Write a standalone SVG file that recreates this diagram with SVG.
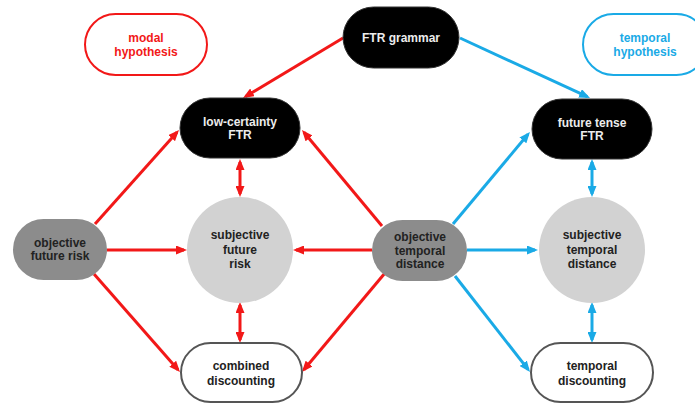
<svg xmlns="http://www.w3.org/2000/svg" width="695" height="405" viewBox="0 0 695 405">
<defs>
<style>
text{font-family:"Liberation Sans",Arial,sans-serif;font-weight:bold;font-size:12px;text-anchor:middle}
.blk rect{fill:#000;stroke:#333;stroke-width:1}
.blk text{fill:#ececec}
.obj rect{fill:#8c8c8c}
.sub circle{fill:#d2d2d2}
.dark text{fill:#222}
.out rect{fill:#fff;stroke:#555;stroke-width:2}
.hyp rect{fill:#fff;stroke-width:2}
.red{stroke:#f21818;stroke-width:3;fill:none}
.blue{stroke:#1aaae6;stroke-width:3;fill:none}
.red.e{marker-end:url(#ar)}
.red.b{marker-start:url(#ar);marker-end:url(#ar)}
.blue.e{marker-end:url(#ab)}
.blue.b{marker-start:url(#ab);marker-end:url(#ab)}
</style>
<marker id="ar" markerUnits="userSpaceOnUse" markerWidth="11" markerHeight="9" refX="8" refY="4.5" orient="auto-start-reverse"><path d="M0,0 L11,4.5 L0,9 z" fill="#f21818"/></marker>
<marker id="ab" markerUnits="userSpaceOnUse" markerWidth="11" markerHeight="9" refX="8" refY="4.5" orient="auto-start-reverse"><path d="M0,0 L11,4.5 L0,9 z" fill="#1aaae6"/></marker>
</defs>
<rect width="695" height="405" fill="#fff"/>
<g id="connectors">
<line class="red e" x1="343" y1="38" x2="245.6" y2="96.5"/>
<line class="red e" x1="95" y1="224" x2="177" y2="132.2"/>
<line class="red e" x1="382" y1="226" x2="303.9" y2="132.3"/>
<line class="red e" x1="107" y1="250" x2="184" y2="250"/>
<line class="red e" x1="372" y1="250" x2="296" y2="250"/>
<line class="red e" x1="94" y1="274" x2="178" y2="369.7"/>
<line class="red e" x1="385" y1="273" x2="303.9" y2="369.7"/>
<line class="red b" x1="240" y1="162" x2="240" y2="194"/>
<line class="red b" x1="240" y1="305" x2="240" y2="340"/>
<line class="blue e" x1="460" y1="38" x2="587.3" y2="96.7"/>
<line class="blue e" x1="453" y1="224" x2="528" y2="134.3"/>
<line class="blue e" x1="467" y1="250" x2="535" y2="250"/>
<line class="blue e" x1="455" y1="276" x2="528.2" y2="369.6"/>
<line class="blue b" x1="592" y1="162" x2="592" y2="194"/>
<line class="blue b" x1="592" y1="305" x2="592" y2="340"/>
</g>
<g id="modal-hypothesis" class="hyp"><rect x="85" y="14" width="122" height="61" rx="30.5" stroke="#f21818"/><text x="146" y="42" fill="#f21818">modal</text><text x="146" y="56" fill="#f21818">hypothesis</text></g>
<g id="temporal-hypothesis" class="hyp"><rect x="583" y="14" width="124" height="61" rx="30.5" stroke="#1aaae6"/><text x="645" y="42" fill="#1aaae6">temporal</text><text x="645" y="56" fill="#1aaae6">hypothesis</text></g>
<g id="ftr-grammar" class="blk"><rect x="343" y="7" width="116" height="61" rx="30.5"/><text x="401" y="42">FTR grammar</text></g>
<g id="low-certainty-ftr" class="blk"><rect x="180" y="98" width="120" height="60" rx="30"/><text x="240" y="126">low-certainty</text><text x="240" y="139">FTR</text></g>
<g id="future-tense-ftr" class="blk"><rect x="532" y="99" width="120" height="60" rx="30"/><text x="592" y="127">future tense</text><text x="592" y="140">FTR</text></g>
<g id="objective-future-risk" class="obj dark"><rect x="13" y="219" width="94" height="61" rx="30.5"/><text x="60" y="247">objective</text><text x="60" y="260">future risk</text></g>
<g id="subjective-future-risk" class="sub dark"><circle cx="240" cy="250" r="53"/><text x="240" y="239">subjective</text><text x="240" y="254">future</text><text x="240" y="268">risk</text></g>
<g id="objective-temporal-distance" class="obj dark"><rect x="372" y="220" width="95" height="61" rx="30.5"/><text x="420" y="241">objective</text><text x="420" y="255">temporal</text><text x="420" y="268">distance</text></g>
<g id="subjective-temporal-distance" class="sub dark"><circle cx="592" cy="250" r="53"/><text x="592" y="239">subjective</text><text x="592" y="254">temporal</text><text x="592" y="268">distance</text></g>
<g id="combined-discounting" class="out dark"><rect x="181" y="343" width="121" height="59" rx="29.5"/><text x="241" y="370">combined</text><text x="241" y="385">discounting</text></g>
<g id="temporal-discounting" class="out dark"><rect x="531" y="343" width="122" height="59" rx="29.5"/><text x="592" y="370">temporal</text><text x="592" y="385">discounting</text></g>
</svg>
